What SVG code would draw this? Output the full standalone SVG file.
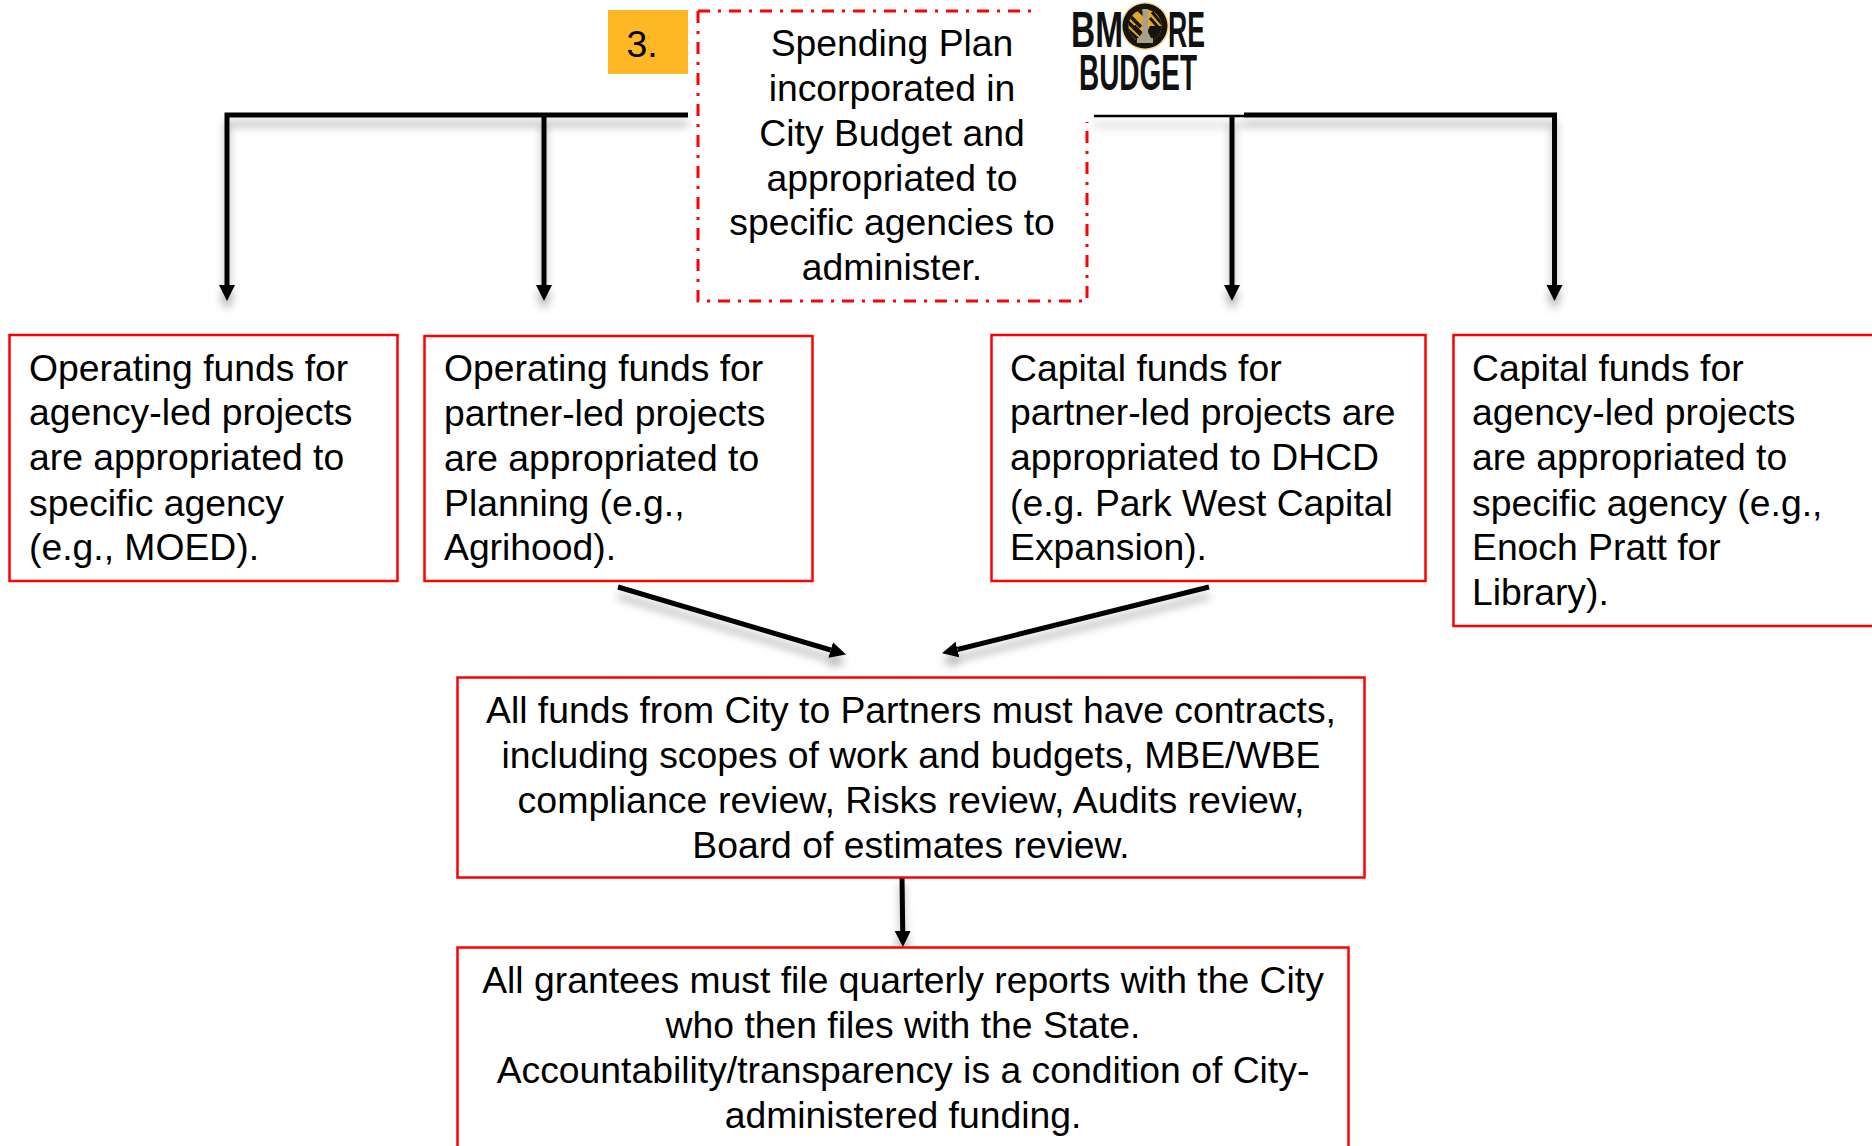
<svg xmlns="http://www.w3.org/2000/svg" width="1872" height="1146" viewBox="0 0 1872 1146">
<style>
.box{fill:#fff;stroke:#f00;stroke-width:2.5}
.t{font-family:"Liberation Sans",Arial,sans-serif;font-size:37.3px;fill:#000}
.c{text-anchor:middle}
.conn{fill:none;stroke:#000;stroke-width:5}
.thin{stroke-width:2.5}
.logo{font-family:"Liberation Sans",Arial,sans-serif;font-weight:bold;fill:#111;font-size:36px}
</style>
<defs>
<marker id="arr" markerUnits="userSpaceOnUse" markerWidth="17" markerHeight="17" refX="0" refY="8" orient="auto"><path d="M0 0L16 8L0 16Z" fill="#000"/></marker>
<filter id="sh" x="0" y="0" width="1872" height="1146" filterUnits="userSpaceOnUse"><feDropShadow dx="0" dy="9" stdDeviation="4" flood-color="#000" flood-opacity="0.3"/></filter>
<clipPath id="seal"><circle cx="1145" cy="26" r="16.5"/></clipPath>
</defs>
<rect width="1872" height="1146" fill="#fff"/>
<g id="connectors">
<g filter="url(#sh)">
<path class="conn" d="M688 115H227V285" marker-end="url(#arr)"/>
<path class="conn" d="M544 115V285" marker-end="url(#arr)"/>
<path class="conn thin" d="M1094 116H1244"/>
<path class="conn" d="M1244 115H1554.500V285" marker-end="url(#arr)"/>
<path class="conn" d="M1232 116V285" marker-end="url(#arr)"/>
<path class="conn" d="M618 587L830.700 650" marker-end="url(#arr)"/>
<path class="conn" d="M1209 587L957.500 649.500" marker-end="url(#arr)"/>
<path class="conn" d="M902 875L902.700 931" marker-end="url(#arr)"/>
</g>
</g>
<g id="step-number">
<rect x="608" y="10" width="80" height="64" fill="#FFB726"/>
<text class="t c" x="642" y="57">3.</text>
</g>
<g id="spending-plan">
<path d="M698 11H1032M698 11V301H1087V122" fill="none" stroke="#f00" stroke-width="3" stroke-dasharray="12 8 3 8"/>
<text class="t c" x="892" y="56">Spending Plan</text>
<text class="t c" x="892" y="101">incorporated in</text>
<text class="t c" x="892" y="146">City Budget and</text>
<text class="t c" x="892" y="191">appropriated to</text>
<text class="t c" x="892" y="235">specific agencies to</text>
<text class="t c" x="892" y="280">administer.</text>
</g>
<g id="logo">
<text class="logo" transform="translate(1071 47) scale(1 1.39)" textLength="52" lengthAdjust="spacingAndGlyphs">BM</text>
<text class="logo" transform="translate(1168 47) scale(1 1.39)" textLength="37" lengthAdjust="spacingAndGlyphs">RE</text>
<text class="logo" transform="translate(1079 90) scale(1 1.39)" textLength="118" lengthAdjust="spacingAndGlyphs">BUDGET</text>
<circle cx="1145" cy="26" r="24" fill="#F5B335" opacity="0.55"/>
<circle cx="1145" cy="26" r="22.500" fill="#17140e"/>
<g clip-path="url(#seal)">
<rect x="1128" y="9" width="34" height="34" fill="#E3A72B"/>
<path d="M1128 14L1141 27M1128 22L1141 35M1138 9L1145 16" stroke="#17140e" stroke-width="3.500" fill="none"/>
<path d="M1128 30L1143 44M1134 26L1146 38" stroke="#17140e" stroke-width="3.500" fill="none"/>
<path d="M1150 26H1163V44H1146V34Z" fill="#17140e"/>
<path d="M1152 12L1162 24M1150 18L1158 27" stroke="#17140e" stroke-width="3" fill="none"/>
</g>
<path d="M1142.500 9H1148V32L1151 38H1153V43H1137V38H1139L1142.500 32Z" fill="#A9A08A"/>
</g>
<g id="op-agency">
<rect class="box" x="9.500" y="335" width="388" height="246"/>
<text class="t" x="29" y="381">Operating funds for</text>
<text class="t" x="29" y="425">agency-led projects</text>
<text class="t" x="29" y="470">are appropriated to</text>
<text class="t" x="29" y="516">specific agency</text>
<text class="t" x="29" y="560">(e.g., MOED).</text>
</g>
<g id="op-partner">
<rect class="box" x="424.500" y="336" width="388" height="245"/>
<text class="t" x="444" y="381">Operating funds for</text>
<text class="t" x="444" y="426">partner-led projects</text>
<text class="t" x="444" y="471">are appropriated to</text>
<text class="t" x="444" y="516">Planning (e.g.,</text>
<text class="t" x="444" y="560">Agrihood).</text>
</g>
<g id="cap-partner">
<rect class="box" x="991.500" y="335" width="434" height="246"/>
<text class="t" x="1010" y="381">Capital funds for</text>
<text class="t" x="1010" y="425">partner-led projects are</text>
<text class="t" x="1010" y="470">appropriated to DHCD</text>
<text class="t" x="1010" y="516">(e.g. Park West Capital</text>
<text class="t" x="1010" y="560">Expansion).</text>
</g>
<g id="cap-agency">
<rect class="box" x="1453.500" y="335" width="430" height="291"/>
<text class="t" x="1472" y="381">Capital funds for</text>
<text class="t" x="1472" y="425">agency-led projects</text>
<text class="t" x="1472" y="470">are appropriated to</text>
<text class="t" x="1472" y="516">specific agency (e.g.,</text>
<text class="t" x="1472" y="560">Enoch Pratt for</text>
<text class="t" x="1472" y="605">Library).</text>
</g>
<g id="contracts">
<rect class="box" x="457.500" y="677.500" width="907" height="200"/>
<text class="t c" x="911" y="723">All funds from City to Partners must have contracts,</text>
<text class="t c" x="911" y="768">including scopes of work and budgets, MBE/WBE</text>
<text class="t c" x="911" y="813" textLength="787" lengthAdjust="spacingAndGlyphs">compliance review, Risks review, Audits review,</text>
<text class="t c" x="911" y="858">Board of estimates review.</text>
</g>
<g id="reports">
<rect class="box" x="457.500" y="947.500" width="891" height="210"/>
<text class="t c" x="903" y="993">All grantees must file quarterly reports with the City</text>
<text class="t c" x="903" y="1038">who then files with the State.</text>
<text class="t c" x="903" y="1083">Accountability/transparency is a condition of City-</text>
<text class="t c" x="903" y="1128">administered funding.</text>
</g>
</svg>
